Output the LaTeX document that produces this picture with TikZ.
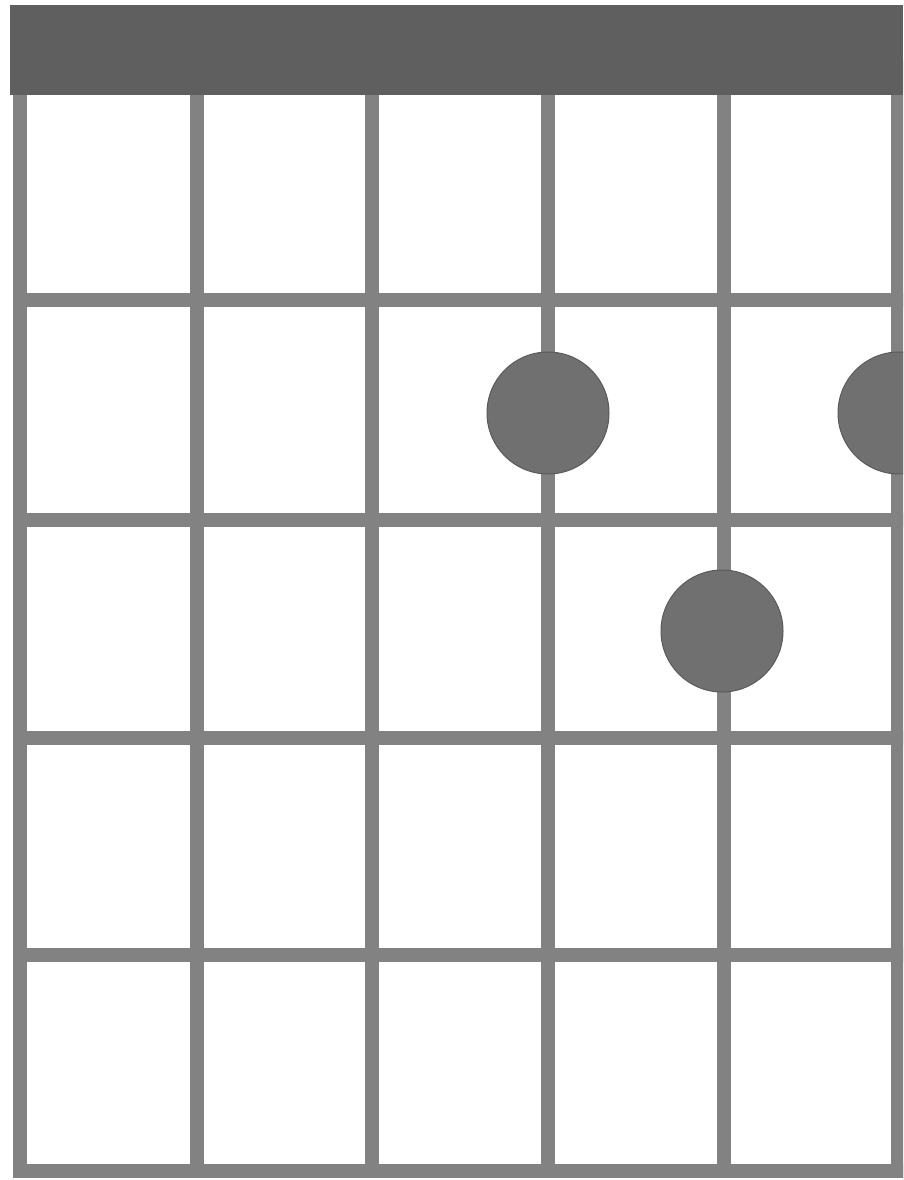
\documentclass[tikz,border=0pt]{standalone}
\definecolor{barcol}{RGB}{95,95,95}
\definecolor{linecol}{RGB}{130,130,130}
\definecolor{dotcol}{RGB}{112,112,112}
\begin{document}
\begin{tikzpicture}[x=1pt,y=-1pt,
  gridline/.style={draw=linecol,line width=14pt},
  fingerdot/.style={circle,fill=dotcol,draw=dotcol!80!black,line width=1pt,minimum size=122pt,inner sep=0pt}]
\useasboundingbox (0,0) rectangle (903,1180);
\clip (0,0) rectangle (903,1180);
\fill[white] (0,0) rectangle (903,1180);
% strings
\foreach \x in {20,197,372,548,724,898}
  \draw[gridline] (\x,60) -- (\x,1178);
% frets
\foreach \y in {300,520,738,955}
  \draw[gridline] (13,\y) -- (905,\y);
\draw[gridline] (13,1171) -- (905,1171);
% nut / top bar
\fill[barcol] (10,5) rectangle (903,95);
% finger dots
\node[fingerdot] (d1) at (548,413) {};
\node[fingerdot] (d2) at (899,413) {};
\node[fingerdot] (d3) at (722,631) {};
\end{tikzpicture}
\end{document}
